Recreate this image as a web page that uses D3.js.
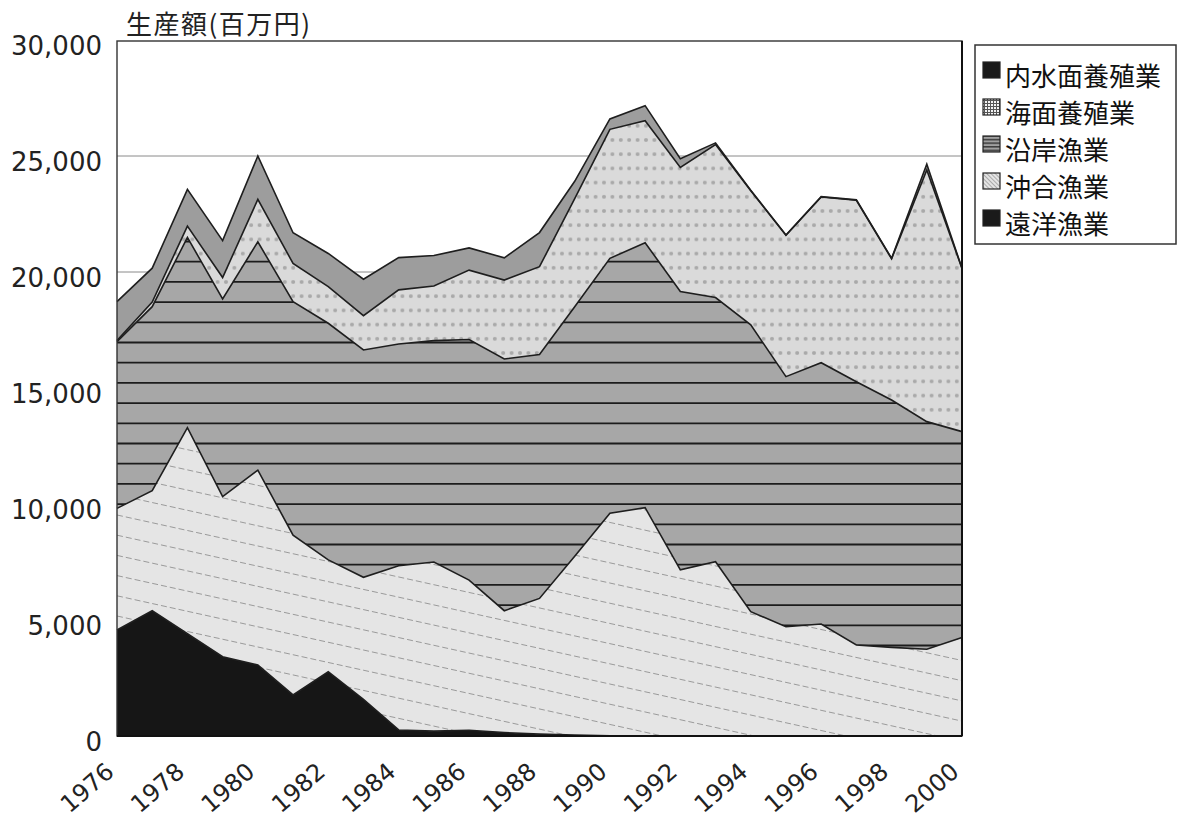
<!DOCTYPE html>
<html><head><meta charset="utf-8">
<script src="https://cdn.jsdelivr.net/npm/d3@7"></script>
<style>html,body{margin:0;padding:0;background:#fff;} svg{display:block}</style>
</head><body><svg id="chart" width="1181" height="822"></svg>
<script>
// ---- data (百万円) ----
const years = [1976,1977,1978,1979,1980,1981,1982,1983,1984,1985,1986,1987,1988,1989,1990,1991,1992,1993,1994,1995,1996,1997,1998,1999,2000];
const enyo   = [4570,5400,4410,3420,3060,1770,2770,1580,260,210,250,150,80,40,10,10,10,10,10,10,10,10,10,10,10];          // 遠洋漁業
const okiai  = [5240,5175,8880,6900,8400,6890,4820,5260,7080,7290,6470,5250,5850,7710,9590,9830,7150,7500,5350,4700,4820,3910,3810,3730,4240]; // 沖合漁業
const engan  = [7190,7930,8200,8520,9840,10060,10200,9800,9560,9540,10370,10850,10510,10750,10990,11420,12000,11390,12360,10780,11260,11350,10660,9810,8870]; // 沿岸漁業
const kaimen = [50,200,490,920,1830,1650,1580,1480,2330,2360,2990,3400,3790,4660,5560,5260,5350,6590,5780,6090,7140,7820,6090,10850,7030]; // 海面養殖業
const naisui = [1670,1460,1580,1590,1870,1320,1430,1570,1390,1310,960,960,1470,750,450,650,370,75,25,15,20,20,20,250,10]; // 内水面養殖業
const stackKeys = ["遠洋漁業","沖合漁業","沿岸漁業","海面養殖業","内水面養殖業"];
const legendNames = ["内水面養殖業","海面養殖業","沿岸漁業","沖合漁業","遠洋漁業"];
const yTicks = [0,5000,10000,15000,20000,25000,30000];
const xTicks = [1976,1978,1980,1982,1984,1986,1988,1990,1992,1994,1996,1998,2000];
const yTitle = "生産額(百万円)";

const rows = years.map((yr,i)=>({year:yr,"遠洋漁業":enyo[i],"沖合漁業":okiai[i],"沿岸漁業":engan[i],"海面養殖業":kaimen[i],"内水面養殖業":naisui[i]}));

const L = 117, R = 962, T = 40, B = 736;
const svg = d3.select("#chart");
const x = d3.scaleLinear().domain([1976,2000]).range([L,R]);
const y = d3.scaleLinear().domain([0,30000]).range([B,T]);
const numFont = "'DejaVu Sans', sans-serif";
const jpFont = "'Noto Sans CJK JP', sans-serif";

const defs = svg.append("defs");
// dot pattern for 海面養殖業
const dot = defs.append("pattern").attr("id","dots").attr("patternUnits","userSpaceOnUse")
  .attr("x",604-8.4*72).attr("y",211-14.2*15).attr("width",8.4).attr("height",14.2);
dot.append("rect").attr("width",8.4).attr("height",14.2).attr("fill","#dadada");
[[0,0],[8.4,0],[0,14.2],[8.4,14.2]].forEach(([cx,cy])=>
  dot.append("circle").attr("cx",cx).attr("cy",cy).attr("r",2).attr("fill","#a9a9a9"));
// legend patterns
const gp = defs.append("pattern").attr("id","lgGrid").attr("patternUnits","userSpaceOnUse").attr("width",3).attr("height",3);
gp.append("rect").attr("width",3).attr("height",3).attr("fill","#f2f2f2");
gp.append("path").attr("d","M0,0.5H3M0.5,0V3").attr("stroke","#555").attr("stroke-width",1);
const hp = defs.append("pattern").attr("id","lgHor").attr("patternUnits","userSpaceOnUse").attr("width",4).attr("height",3.6);
hp.append("rect").attr("width",4).attr("height",3.6).attr("fill","#a0a0a0");
hp.append("path").attr("d","M0,0.8H4").attr("stroke","#222").attr("stroke-width",1.2);
const dp = defs.append("pattern").attr("id","lgDiag").attr("patternUnits","userSpaceOnUse").attr("width",3).attr("height",3).attr("patternTransform","rotate(45)");
dp.append("rect").attr("width",3).attr("height",3).attr("fill","#e4e4e4");
dp.append("path").attr("d","M0,0.5H3").attr("stroke","#aaa").attr("stroke-width",1);

// gridlines
svg.append("g").selectAll("line").data(yTicks.filter(v=>v>0 && v<30000)).join("line")
  .attr("x1",L).attr("x2",R).attr("y1",d=>y(d)).attr("y2",d=>y(d))
  .attr("stroke","#8a8a8a").attr("stroke-width",1);

const series = d3.stack().keys(stackKeys)(rows);
const area = d3.area().x(d=>x(d.data.year)).y0(d=>y(d[0])).y1(d=>y(d[1]));
const topLine = d3.line().x(d=>x(d.data.year)).y(d=>y(d[1]));
const fills = {"遠洋漁業":"#161616","沖合漁業":"#e5e5e5","沿岸漁業":"#a7a7a7","海面養殖業":"url(#dots)","内水面養殖業":"#9d9d9d"};

series.forEach((s,i)=>{
  defs.append("clipPath").attr("id","clip"+i).append("path").attr("d",area(s));
});
const gA = svg.append("g");
gA.selectAll("path.area").data(series).join("path").attr("class","area")
  .attr("d",area).attr("fill",d=>fills[d.key]);

// 沖合漁業: dashed diagonal lines
const okIdx = stackKeys.indexOf("沖合漁業");
const dashK = d3.range(-30,30);
svg.append("g").attr("clip-path","url(#clip"+okIdx+")").selectAll("line").data(dashK).join("line")
  .attr("x1",L).attr("x2",R)
  .attr("y1",k=>515+k*20.2).attr("y2",k=>515+k*20.2+0.22*(R-L))
  .attr("stroke","#9a9a9a").attr("stroke-width",1).attr("stroke-dasharray","6,3");
// 沿岸漁業: horizontal black lines
const egIdx = stackKeys.indexOf("沿岸漁業");
const horK = d3.range(-12,25);
svg.append("g").attr("clip-path","url(#clip"+egIdx+")").selectAll("line").data(horK).join("line")
  .attr("x1",L).attr("x2",R)
  .attr("y1",k=>261.7+k*20.2).attr("y2",k=>261.7+k*20.2)
  .attr("stroke","#1c1c1c").attr("stroke-width",1.8);

// layer outlines
svg.append("g").selectAll("path").data(series).join("path")
  .attr("d",topLine).attr("fill","none").attr("stroke","#1e1e1e").attr("stroke-width",1.6).attr("stroke-linejoin","miter");

// frame
svg.append("rect").attr("x",L).attr("y",T+1).attr("width",R-L).attr("height",B-T-1)
  .attr("fill","none").attr("stroke","#333").attr("stroke-width",1.4);
svg.append("line").attr("x1",R).attr("x2",R).attr("y1",T+1).attr("y2",B).attr("stroke","#111").attr("stroke-width",2);
svg.append("line").attr("x1",L).attr("x2",R).attr("y1",B).attr("y2",B).attr("stroke","#111").attr("stroke-width",2.2);

// y axis
const yAxis = svg.append("g").attr("transform",`translate(${L},0)`)
  .call(d3.axisLeft(y).tickValues(yTicks).tickSize(0).tickPadding(15).tickFormat(d3.format(",")));
yAxis.select(".domain").remove();
yAxis.selectAll("text").attr("font-family",numFont).attr("font-size",26).attr("fill","#222").attr("dy","0.55em");

// x axis
const xAxis = svg.append("g").attr("transform",`translate(0,${B})`)
  .call(d3.axisBottom(x).tickValues(xTicks).tickSize(0).tickFormat(d3.format("d")));
xAxis.select(".domain").remove();
xAxis.selectAll("text").attr("font-family",numFont).attr("font-size",24).attr("fill","#222")
  .attr("text-anchor","end").attr("dy",null).attr("y",null)
  .attr("transform","translate(-2,38) rotate(-41)");

// y title
svg.append("text").attr("x",126).attr("y",34).attr("font-family",jpFont).attr("font-size",26)
  .attr("letter-spacing",1.5).attr("fill","#222").text(yTitle);

// legend
const lg = svg.append("g");
lg.append("rect").attr("x",975).attr("y",45).attr("width",201).attr("height",199)
  .attr("fill","#fff").attr("stroke","#333").attr("stroke-width",1.5);
const swFill = {"内水面養殖業":"#1a1a1a","海面養殖業":"url(#lgGrid)","沿岸漁業":"url(#lgHor)","沖合漁業":"url(#lgDiag)","遠洋漁業":"#1a1a1a"};
const item = lg.selectAll("g.item").data(legendNames).join("g").attr("class","item")
  .attr("transform",(d,i)=>`translate(0,${i*37})`);
item.append("rect").attr("x",983).attr("y",62).attr("width",17).attr("height",16)
  .attr("fill",d=>swFill[d]).attr("stroke","#222").attr("stroke-width",1.2);
item.append("text").attr("x",1005).attr("y",74).attr("dominant-baseline","central")
  .attr("font-family",jpFont).attr("font-size",26).attr("fill","#111").text(d=>d);
</script></body></html>
